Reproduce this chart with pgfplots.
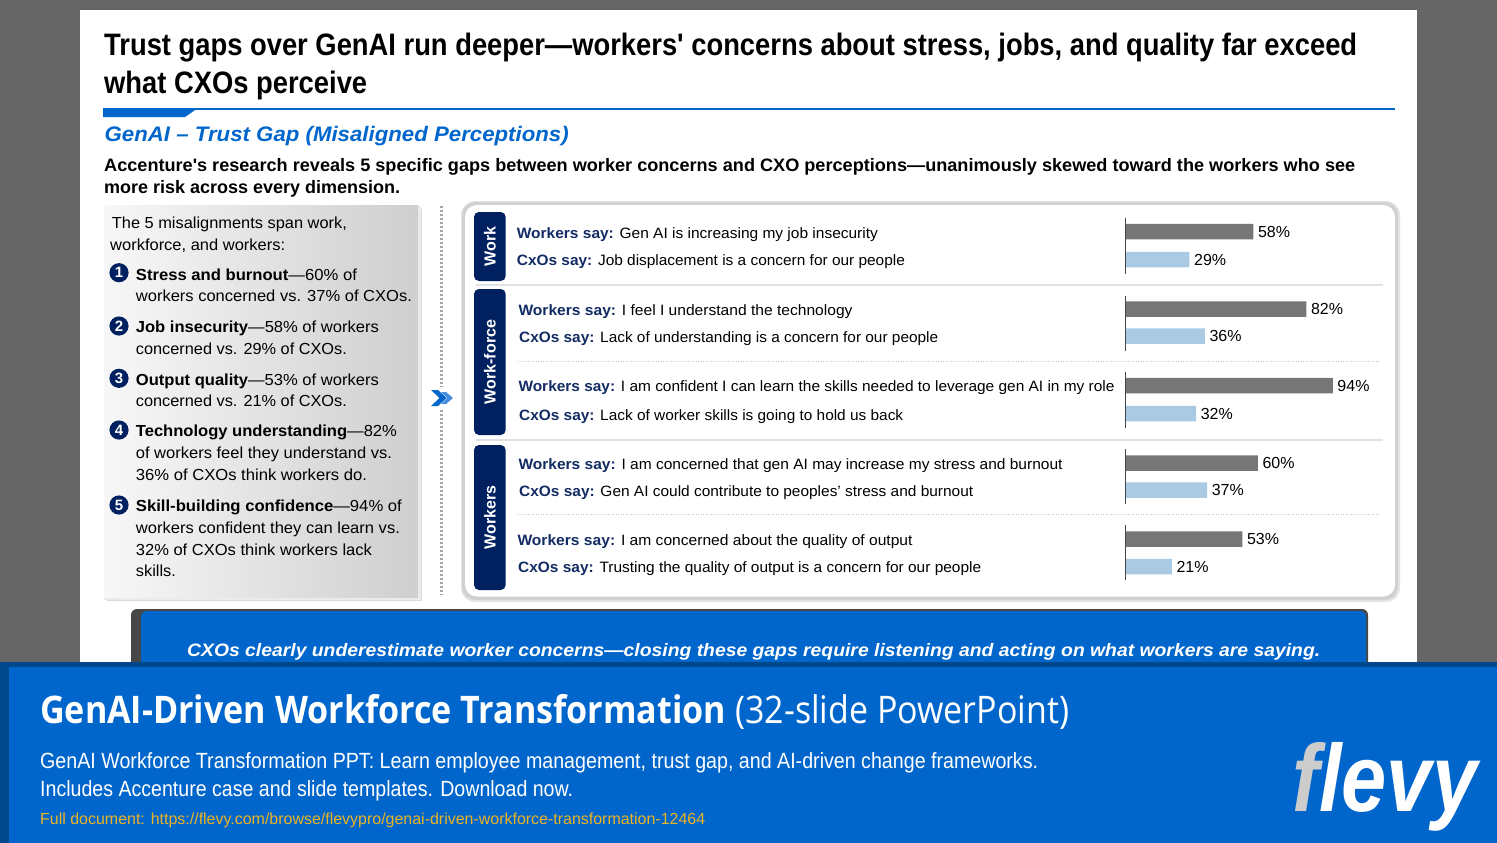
\documentclass[border=0pt]{standalone}
\usepackage{pgfplots}
\pgfplotsset{compat=1.18}
\usepackage{graphicx}
\usepackage{fontspec}
\setmainfont{Liberation Sans}
\newfontfamily\segoe{Open Sans}

\definecolor{bgGray}{RGB}{102,102,102}
\definecolor{blueMain}{RGB}{0,102,204}
\definecolor{blueDark}{RGB}{0,72,140}
\definecolor{blueLight}{RGB}{70,140,225}
\definecolor{navy}{RGB}{0,32,96}
\definecolor{navyText}{RGB}{20,44,100}
\definecolor{barDark}{RGB}{118,118,118}
\definecolor{barLight}{RGB}{169,202,226}
\definecolor{axisGray}{RGB}{70,70,70}
\definecolor{urlGold}{RGB}{235,180,35}
\definecolor{logoGray}{RGB}{204,204,204}
\definecolor{sepGray}{RGB}{226,226,226}

% scale a line of text to a given width, keeping its height
\newcommand\fit[2]{\resizebox{#1pt}{\height}{#2}}
\newcommand\fs[1]{\fontsize{#1pt}{#1pt}\selectfont}

\tikzset{txt/.style={anchor=base west, inner sep=0pt}}

\begin{document}
\begin{tikzpicture}
\begin{scope}[x=1pt,y=-1pt]
% page and slide
\fill[bgGray] (0,0) rectangle (1497,843);
\fill[white] (80,10) rectangle (1417,662);

% headline
\node[txt, font=\bfseries\fs{31}] at (104,56) {\fit{1253}{Trust gaps over GenAI run deeper—workers\textquotesingle{} concerns about stress, jobs, and quality far exceed}};
\node[txt, font=\bfseries\fs{31}] at (104,93.5) {\fit{263}{what CXOs perceive}};

% rule under the headline
\fill[blueMain] (104,108) rectangle (1395,110);
\fill[blueMain] (103,108) -- (198,108) -- (185,117) -- (103,117) -- cycle;

% subtitle and lead text
\node[txt, font=\bfseries\itshape\fs{21}, text=blueMain] at (104.5,141.7) {\fit{464}{GenAI – Trust Gap (Misaligned Perceptions)}};
\node[txt, font=\bfseries\fs{18}] at (104,171.5) {\fit{1251}{Accenture\textquotesingle{}s research reveals 5 specific gaps between worker concerns and CXO perceptions—unanimously skewed toward the workers who see}};
\node[txt, font=\bfseries\fs{18}] at (104,193) {\fit{296}{more risk across every dimension.}};

% left summary panel
\fill[black!14] (107,209) rectangle (422,601);
\fill[black!8] (104,206) rectangle (421,600);
\shade[left color=white!97!black, right color=white!81!black] (104,205) rectangle (418,597);
\node[txt, font=\fs{16}] at (111.7,228.3) {\fit{235}{The 5 misalignments span work,}};
\node[txt, font=\fs{16}] at (110,250) {\fit{175}{workforce, and workers:}};

\foreach \yc/\n in {272.7/1, 326/2, 378.3/3, 430/4, 505/5}{
  \fill[navy] (119,\yc) circle[radius=9.6pt];
  \node[text=white, font=\bfseries\fs{15}, inner sep=0pt] at (119,\yc) {\n};
}
\node[txt, font=\fs{16}] at (135.7,280) {\fit{221}{\textbf{Stress and burnout}—60\% of}};
\node[txt, font=\fs{16}] at (135.7,301.7) {\fit{276}{workers concerned vs. 37\% of CXOs.}};
\node[txt, font=\fs{16}] at (135.7,332.7) {\fit{243}{\textbf{Job insecurity}—58\% of workers}};
\node[txt, font=\fs{16}] at (135.7,354.3) {\fit{211}{concerned vs. 29\% of CXOs.}};
\node[txt, font=\fs{16}] at (135.7,385) {\fit{243}{\textbf{Output quality}—53\% of workers}};
\node[txt, font=\fs{16}] at (135.7,406.7) {\fit{211}{concerned vs. 21\% of CXOs.}};
\node[txt, font=\fs{16}] at (135.7,436.7) {\fit{261}{\textbf{Technology understanding}—82\%}};
\node[txt, font=\fs{16}] at (135.7,458.3) {\fit{256}{of workers feel they understand vs.}};
\node[txt, font=\fs{16}] at (135.7,480) {\fit{231}{36\% of CXOs think workers do.}};
\node[txt, font=\fs{16}] at (135.7,511.7) {\fit{266}{\textbf{Skill-building confidence}—94\% of}};
\node[txt, font=\fs{16}] at (135.7,533.3) {\fit{264}{workers confident they can learn vs.}};
\node[txt, font=\fs{16}] at (135.7,555) {\fit{236}{32\% of CXOs think workers lack}};
\node[txt, font=\fs{16}] at (135.7,576.7) {\fit{40}{skills.}};

% divider with chevron
\draw[black!35, line width=2.5pt, dash pattern=on 2pt off 2pt] (441.5,206) -- (441.5,387);
\draw[black!35, line width=2.5pt, dash pattern=on 2pt off 2pt] (441.5,410) -- (441.5,595);
\fill[blueMain] (431,390) -- (438,390) -- (446.5,398) -- (438,406) -- (431,406) -- (439.5,398) -- cycle;
\fill[blueLight] (441,392) -- (446,392) -- (453,398) -- (446,404) -- (441,404) -- (447,398) -- cycle;

% right panel
\fill[black!10, rounded corners=14pt] (461,201) rectangle (1400,602);
\fill[black!18, rounded corners=13pt] (462,202) rectangle (1398,600);
\fill[white, rounded corners=12pt] (465,205) rectangle (1395,596.5);

% category tabs
\fill[navy, rounded corners=5pt] (474,212) rectangle (505.7,281);
\fill[navy, rounded corners=5pt] (474,289) rectangle (505.7,435);
\fill[navy, rounded corners=5pt] (474,445) rectangle (505.7,590);
\node[rotate=90, text=white, font=\bfseries\fs{16}] at (490,246.5) {Work};
\node[rotate=90, text=white, font=\bfseries\fs{16}] at (490,362) {Work-force};
\node[rotate=90, text=white, font=\bfseries\fs{16}] at (490,517.5) {Workers};

% separators
\draw[sepGray, line width=2pt] (476,285) -- (1383,285);
\draw[sepGray, line width=2pt] (476,440) -- (1383,440);
\draw[black!22, line width=0.8pt, dash pattern=on 1pt off 1.5pt] (518,361.7) -- (1380,361.7);
\draw[black!22, line width=0.8pt, dash pattern=on 1pt off 1.5pt] (518,514.3) -- (1380,514.3);

% statements
\node[txt, font=\fs{15}] at (516.7,238.3) {\fit{361}{\textcolor{navyText}{\bfseries Workers say:} Gen AI is increasing my job insecurity}};
\node[txt, font=\fs{15}] at (516.7,265.7) {\fit{388}{\textcolor{navyText}{\bfseries CxOs say:} Job displacement is a concern for our people}};
\node[txt, font=\fs{15}] at (518.3,315) {\fit{334}{\textcolor{navyText}{\bfseries Workers say:} I feel I understand the technology}};
\node[txt, font=\fs{15}] at (519,342.7) {\fit{419}{\textcolor{navyText}{\bfseries CxOs say:} Lack of understanding is a concern for our people}};
\node[txt, font=\fs{15}] at (518.3,391.7) {\fit{596}{\textcolor{navyText}{\bfseries Workers say:} I am confident I can learn the skills needed to leverage gen AI in my role}};
\node[txt, font=\fs{15}] at (519,420) {\fit{384}{\textcolor{navyText}{\bfseries CxOs say:} Lack of worker skills is going to hold us back}};
\node[txt, font=\fs{15}] at (518.3,469.3) {\fit{544}{\textcolor{navyText}{\bfseries Workers say:} I am concerned that gen AI may increase my stress and burnout}};
\node[txt, font=\fs{15}] at (519,496) {\fit{454}{\textcolor{navyText}{\bfseries CxOs say:} Gen AI could contribute to peoples’ stress and burnout}};
\node[txt, font=\fs{15}] at (517.3,545.7) {\fit{395}{\textcolor{navyText}{\bfseries Workers say:} I am concerned about the quality of output}};
\node[txt, font=\fs{15}] at (518,572.7) {\fit{463}{\textcolor{navyText}{\bfseries CxOs say:} Trusting the quality of output is a concern for our people}};

% closing callout
\fill[black!72, rounded corners=6pt] (131,609) rectangle (1368,690);
\fill[blueMain, rounded corners=6pt] (141,611) rectangle (1366,690);
\node[txt, text=white, font=\bfseries\itshape\fs{18}] at (187,656.7) {\fit{1133}{CXOs clearly underestimate worker concerns—closing these gaps require listening and acting on what workers are saying.}};

% footer banner
\fill[blueDark] (0,662) rectangle (1497,843);
\fill[blueMain] (9,667) rectangle (1497,843);
\node[txt, text=white] at (40,723.5) {\fit{686}{\segoe\bfseries\fs{38}GenAI-Driven Workforce Transformation}};
\node[txt, text=white] at (735,723.5) {\fit{334}{\segoe\fs{38}(32-slide PowerPoint)}};
\node[txt, text=white, font=\fs{22}] at (40,768.5) {\fit{998}{GenAI Workforce Transformation PPT: Learn employee management, trust gap, and AI-driven change frameworks.}};
\node[txt, text=white, font=\fs{22}] at (40,796.5) {\fit{533}{Includes Accenture case and slide templates. Download now.}};
\node[txt, text=urlGold, font=\fs{16}] at (40,824.5) {\fit{665}{Full document: https://flevy.com/browse/flevypro/genai-driven-workforce-transformation-12464}};
\node[txt] at (1292,811) {\resizebox{185pt}{69pt}{\bfseries\itshape\textcolor{logoGray}{f}\textcolor{white}{levy}}};
\end{scope}

% paired bars: workers vs. CxOs
\begin{axis}[
  at={(1125.5pt,-600pt)}, anchor=south west,
  scale only axis, width=220.5pt, height=400pt,
  xmin=0, xmax=100, ymin=200, ymax=600, y dir=reverse,
  enlargelimits=false, hide axis, clip=false,
  xbar, bar width=15.5, bar shift=0pt,
  point meta=x,
  /pgf/number format/assume math mode=true,
  nodes near coords={\pgfmathprintnumber{\pgfplotspointmeta}\%},
  every node near coord/.append style={anchor=west, font=\fs{16}, text=black, inner xsep=4.5pt},
]
\addplot[fill=barDark, draw=none] coordinates {(58,231.5) (82,309) (94,385.5) (60,463) (53,539)};
\addplot[fill=barLight, draw=none] coordinates {(29,259.5) (36,336) (32,413.5) (37,490) (21,566.5)};
\draw[axisGray, line width=1.6pt] (axis cs:0,218) -- (axis cs:0,274);
\draw[axisGray, line width=1.6pt] (axis cs:0,296) -- (axis cs:0,351);
\draw[axisGray, line width=1.6pt] (axis cs:0,372) -- (axis cs:0,428);
\draw[axisGray, line width=1.6pt] (axis cs:0,449) -- (axis cs:0,504);
\draw[axisGray, line width=1.6pt] (axis cs:0,525) -- (axis cs:0,580);
\end{axis}

\pgfresetboundingbox
\path[use as bounding box] (0pt,0pt) rectangle (1497pt,-843pt);
\end{tikzpicture}
\end{document}
